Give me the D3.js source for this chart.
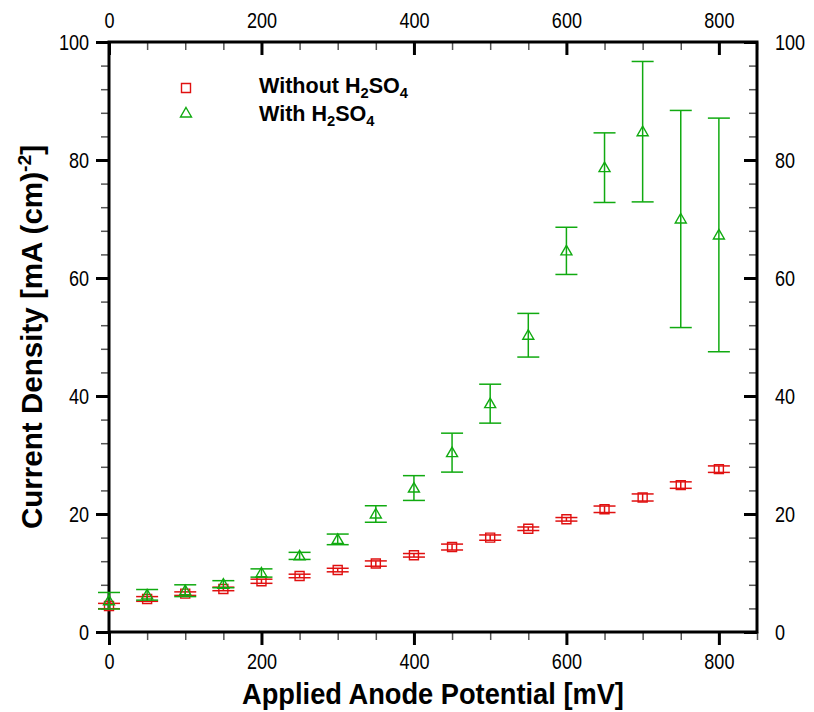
<!DOCTYPE html>
<html>
<head>
<meta charset="utf-8">
<script src="https://cdn.jsdelivr.net/npm/d3@7"></script>
<style>
body { margin: 0; background: #fff; }
svg { display: block; }
.tick text { font-family: "Liberation Sans", Arial, sans-serif; font-size: 22px; fill: #000; }
.title { font-family: "Liberation Sans", Arial, sans-serif; font-weight: bold; fill: #000; }
</style>
</head>
<body>
<svg id="chart"></svg>
<script>
// potentials (mV)
var potential = [0, 50, 100, 150, 200, 250, 300, 350, 400, 450, 500, 550, 600, 650, 700, 750, 800];
// current density without H2SO4
var withoutAcid = [4.4, 5.6, 6.5, 7.3, 8.6, 9.5, 10.5, 11.6, 13.0, 14.4, 16.0, 17.5, 19.1, 20.8, 22.8, 24.9, 27.6];
var withoutErr = [0.45, 0.4, 0.3, 0.3, 0.35, 0.3, 0.3, 0.45, 0.3, 0.5, 0.45, 0.3, 0.3, 0.55, 0.6, 0.55, 0.55];
// current density with H2SO4
var withAcid = [5.3, 6.3, 7.0, 8.1, 10.0, 12.9, 15.7, 20.0, 24.4, 30.4, 38.7, 50.3, 64.6, 78.7, 84.8, 70.0, 67.3];
var withErr = [1.4, 0.9, 1.0, 0.6, 0.7, 0.6, 0.9, 1.4, 2.1, 3.3, 3.3, 3.7, 4.0, 5.9, 11.9, 18.4, 19.8];

var xMajor = [0, 200, 400, 600, 800];
var yMajor = [0, 20, 40, 60, 80, 100];

var width = 814, height = 712;
var margin = {top: 42, right: 57, bottom: 80, left: 109};

var red = "#e01010", green = "#10aa10";

var svg = d3.select("#chart").attr("width", width).attr("height", height);

var x = d3.scaleLinear().domain([0, 850]).range([margin.left, width - margin.right]);
var y = d3.scaleLinear().domain([0, 100]).range([height - margin.bottom, margin.top]);

var xMinor = d3.range(0, 851, 50).filter(function(d) { return d % 200 !== 0; });
var yMinor = d3.range(0, 101, 4).filter(function(d) { return d % 20 !== 0; });

// squeeze text horizontally (narrow face not installed)
function squeeze(sel, k){
	sel.each(function(){
		var w = this.getComputedTextLength();
		d3.select(this).attr("textLength", w * k).attr("lengthAdjust", "spacingAndGlyphs");
	});
}

// minor ticks (no labels)
function minor(axis, sel){
	sel.call(axis.tickFormat(""));
	sel.select(".domain").remove();
	sel.selectAll(".tick line").attr("stroke", "#555").attr("stroke-width", 1.5);
}
minor(d3.axisBottom(x).tickValues(xMinor).tickSize(8), svg.append("g").attr("transform", "translate(0," + y(0) + ")"));
minor(d3.axisTop(x).tickValues(xMinor).tickSize(-8), svg.append("g").attr("transform", "translate(0," + y(100) + ")"));
minor(d3.axisLeft(y).tickValues(yMinor).tickSize(8), svg.append("g").attr("transform", "translate(" + x(0) + ",0)"));
minor(d3.axisRight(y).tickValues(yMinor).tickSize(-8), svg.append("g").attr("transform", "translate(" + x(850) + ",0)"));

// major ticks
function major(axis, sel){
	sel.call(axis);
	sel.select(".domain").remove();
	sel.selectAll(".tick line").attr("stroke", "#000").attr("stroke-width", 3);
	squeeze(sel.selectAll(".tick text"), 0.82);
}
major(d3.axisBottom(x).tickValues(xMajor).tickSize(13).tickPadding(8), svg.append("g").attr("transform", "translate(0," + y(0) + ")"));
major(d3.axisTop(x).tickValues(xMajor).tickSize(-13).tickPadding(14), svg.append("g").attr("transform", "translate(0," + y(100) + ")"));
major(d3.axisLeft(y).tickValues(yMajor).tickSize(13).tickPadding(7), svg.append("g").attr("transform", "translate(" + x(0) + ",0)"));
major(d3.axisRight(y).tickValues(yMajor).tickSize(-13).tickPadding(18), svg.append("g").attr("transform", "translate(" + x(850) + ",0)"));

// frame
svg.append("rect")
.attr("x", x(0)).attr("y", y(100))
.attr("width", x(850) - x(0)).attr("height", y(0) - y(100))
.attr("fill", "none").attr("stroke", "#000").attr("stroke-width", 3);

// series
function series(vals, errs, color, shape){
	var g = svg.append("g");
	var pts = potential.map(function(p, i) { return {x: p, v: vals[i], e: errs[i]}; });
	var cap = 11;

	g.selectAll(".bar").data(pts).enter().append("line")
	.attr("x1", function(d) { return x(d.x); }).attr("x2", function(d) { return x(d.x); })
	.attr("y1", function(d) { return y(d.v - d.e); }).attr("y2", function(d) { return y(d.v + d.e); })
	.attr("stroke", color).attr("stroke-width", 1.5);

	[-1, 1].forEach(function(s){
		g.selectAll(".cap" + s).data(pts).enter().append("line")
		.attr("x1", function(d) { return x(d.x) - cap; }).attr("x2", function(d) { return x(d.x) + cap; })
		.attr("y1", function(d) { return y(d.v + s * d.e); }).attr("y2", function(d) { return y(d.v + s * d.e); })
		.attr("stroke", color).attr("stroke-width", 1.5);
	});

	g.selectAll(".mark").data(pts).enter().append("path")
	.attr("transform", function(d) { return "translate(" + x(d.x) + "," + y(d.v) + ")"; })
	.attr("d", shape)
	.attr("fill", "none").attr("stroke", color).attr("stroke-width", 1.4);
}
var square = "M-4.5,-4.5H4.5V4.5H-4.5Z";
var triangle = "M0,-5.5L5.5,4L-5.5,4Z";

series(withoutAcid, withoutErr, red, square);
series(withAcid, withErr, green, triangle);

// legend
var legend = [{label: "Without H", color: red, shape: square, y: 88, base: 93},
              {label: "With H", color: green, shape: triangle, y: 113, base: 121}];
legend.forEach(function(l){
	svg.append("path")
	.attr("transform", "translate(186," + l.y + ")")
	.attr("d", l.shape).attr("fill", "none").attr("stroke", l.color).attr("stroke-width", 1.4);
	var t = svg.append("text").attr("class", "title")
	.attr("transform", "translate(259," + l.base + ") scale(0.98,1)")
	.style("font-size", "22px");
	t.append("tspan").text(l.label);
	t.append("tspan").attr("dy", 4.5).style("font-size", "15px").text("2");
	t.append("tspan").attr("dy", -4.5).text("SO");
	t.append("tspan").attr("dy", 4.5).style("font-size", "15px").text("4");
});

// axis titles
svg.append("text").attr("class", "title")
.attr("transform", "translate(" + (x(0) + x(850)) / 2 + ",704) scale(0.94,1)")
.attr("text-anchor", "middle").style("font-size", "29px")
.text("Applied Anode Potential [mV]");

var yt = svg.append("text").attr("class", "title")
.attr("transform", "translate(42," + (y(0) + y(100)) / 2 + ") rotate(-90) scale(1.02,1)")
.attr("text-anchor", "middle").style("font-size", "29px");
yt.append("tspan").text("Current Density [mA (cm)");
yt.append("tspan").attr("dy", -11).style("font-size", "19px").text("-2");
yt.append("tspan").attr("dy", 11).text("]");
</script>
</body>
</html>
